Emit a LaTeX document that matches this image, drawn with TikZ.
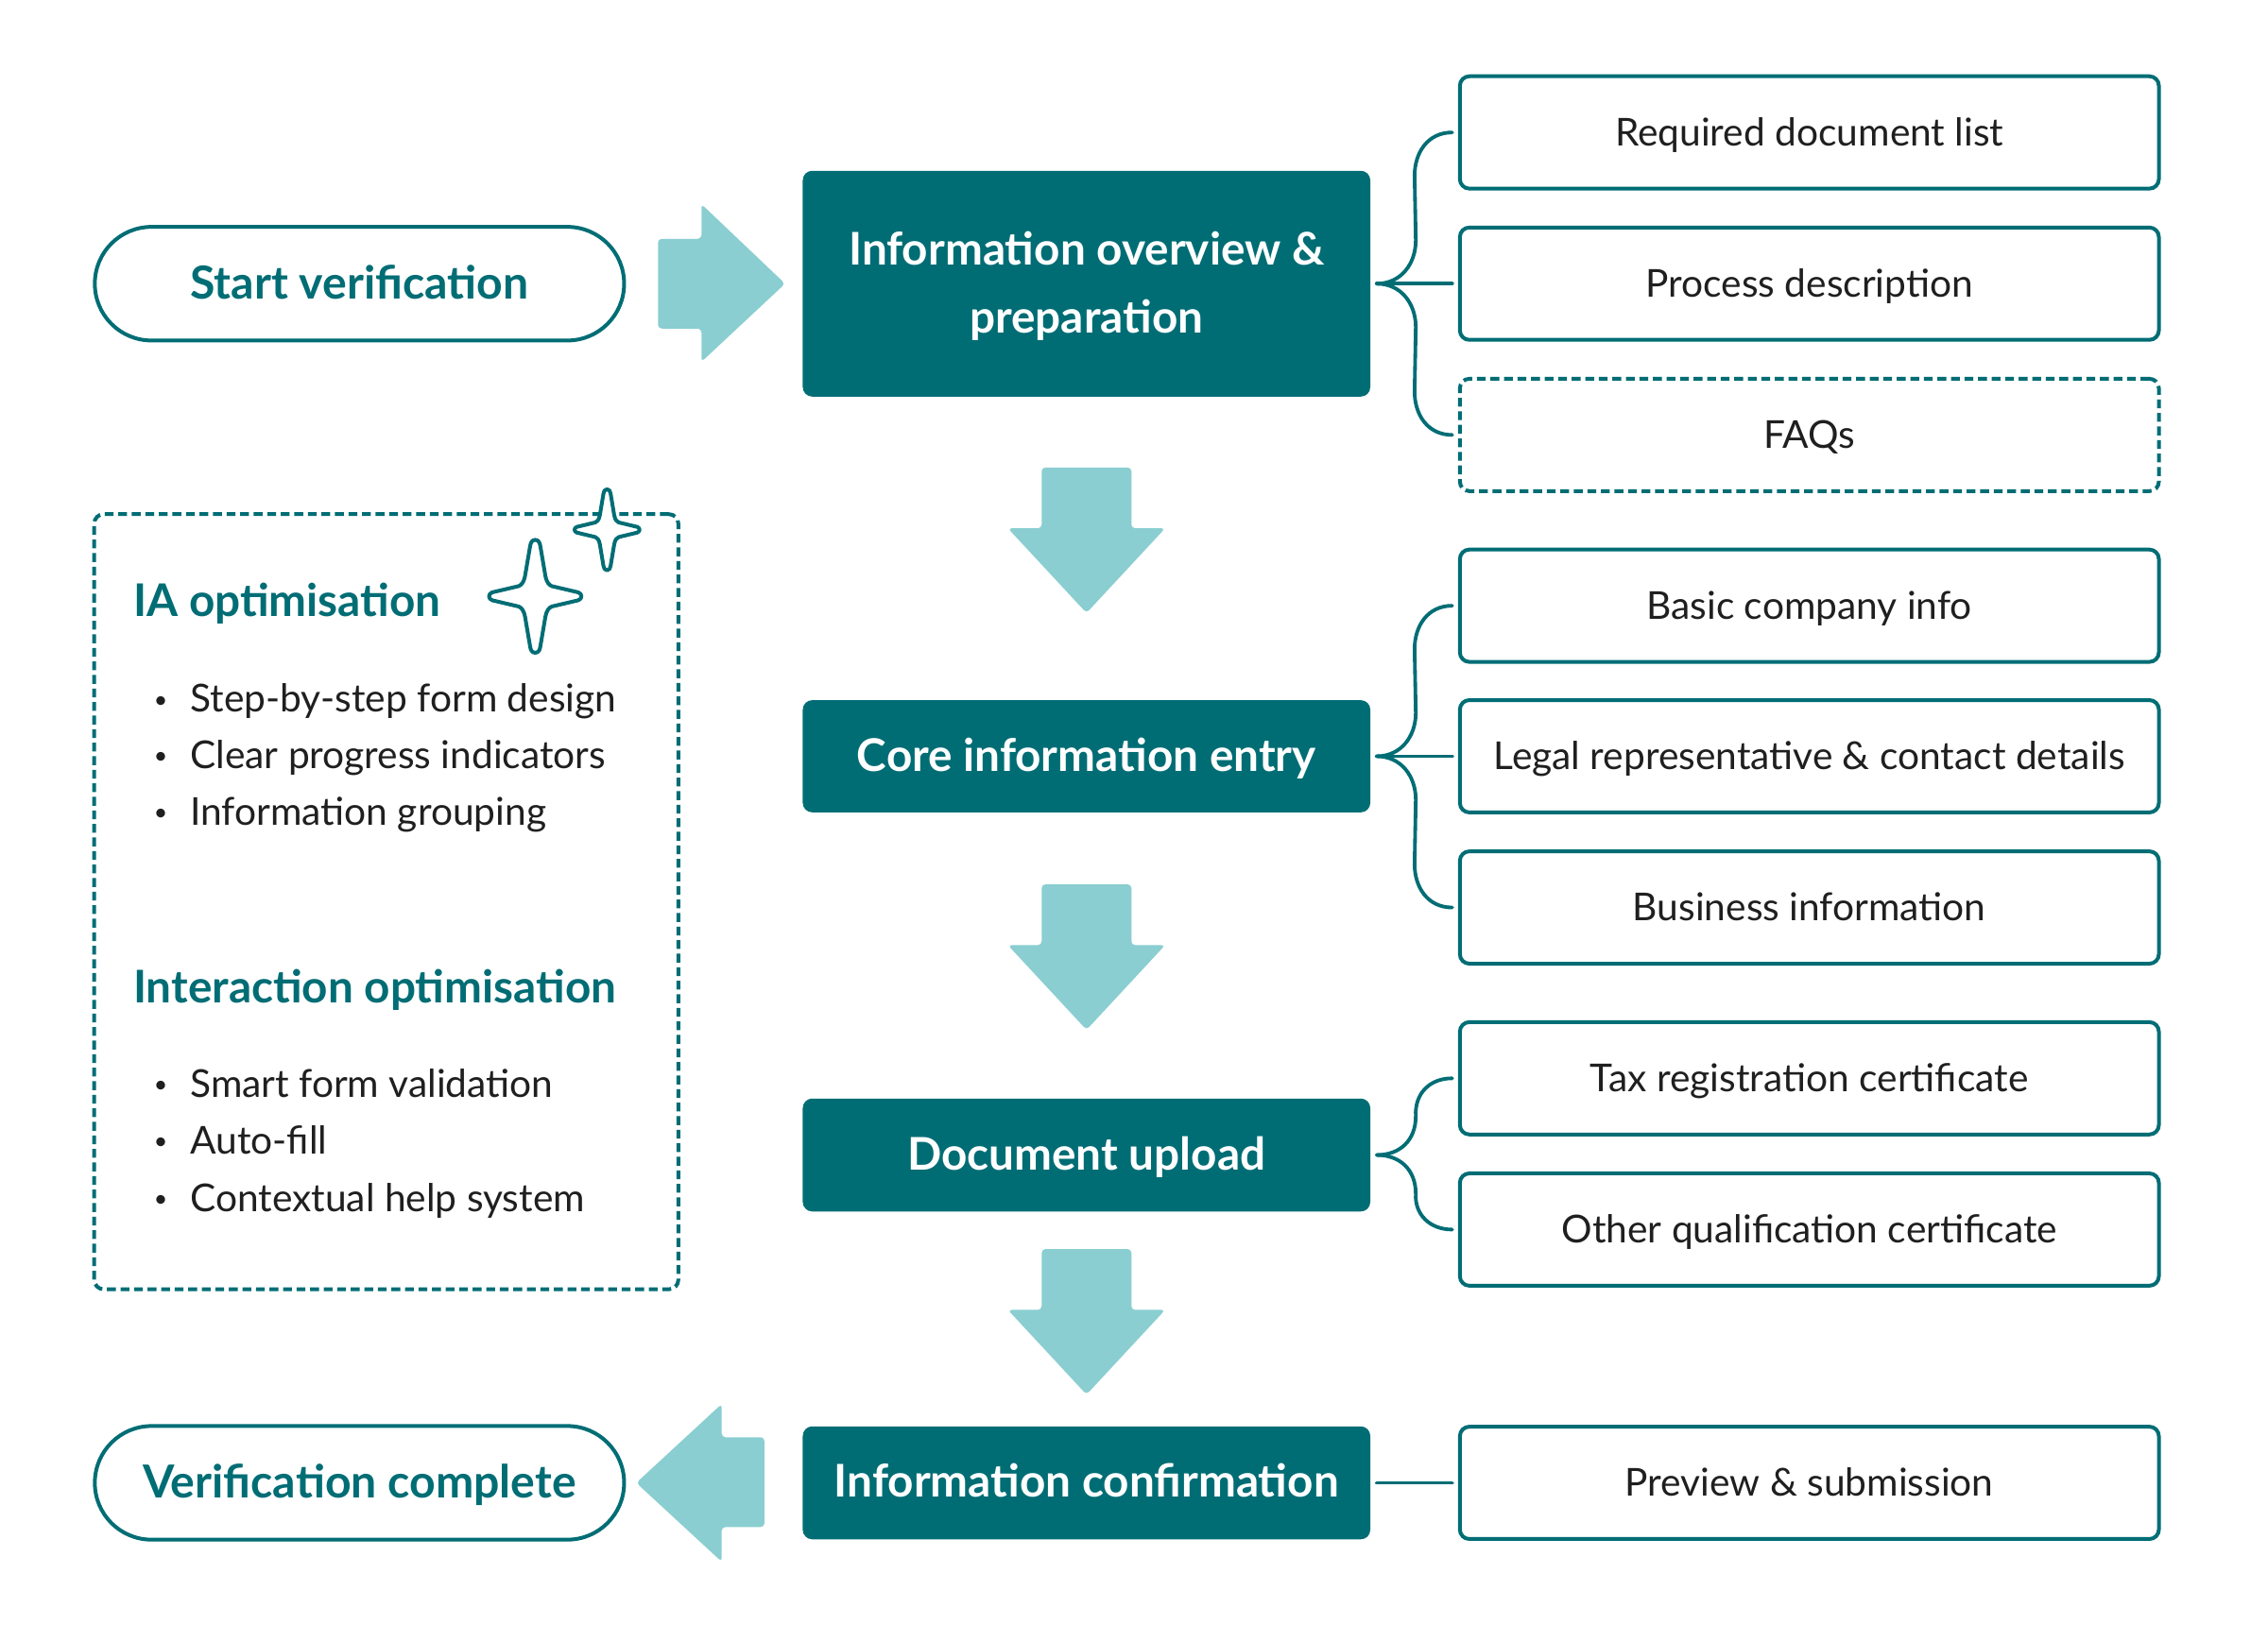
\documentclass[tikz,border=0pt]{standalone}
\usepackage{fontspec}
\usetikzlibrary{calc}
\setmainfont{Lato}
\definecolor{teal}{HTML}{006D75}
\definecolor{lightteal}{HTML}{8ACED1}
\definecolor{ink}{HTML}{1F1F1F}
\def\uu{0.4596pt}
\tikzset{
  x=\uu, y=-\uu,
  stepbox/.style={draw=none, fill=teal, rounded corners=3pt, text=white, align=center, inner sep=0pt,
     minimum width=392*\uu, font=\fontsize{14.3}{21.6}\selectfont\bfseries},
  singleline/.style={text height=11.7pt, text depth=2pt},
  itembox/.style={draw=teal, line width=1.2pt, rounded corners=3pt, text=ink, inner sep=0pt,
     text height=10.6pt, text depth=2.2pt,
     minimum width=482.8*\uu, minimum height=77.6*\uu, font=\fontsize{12.2}{15}\selectfont},
  dashbox/.style={dash pattern=on 2.8pt off 1.5pt},
  pill/.style={draw=teal, line width=1.2pt, rounded corners=18pt, text=teal, inner sep=0pt,
     text height=11.5pt, text depth=2pt,
     minimum width=365.6*\uu, minimum height=78.5*\uu, font=\fontsize{14.45}{18}\selectfont\bfseries},
  bigarrow/.style={fill=lightteal, rounded corners=1.2pt},
  link/.style={draw=teal, line width=1.15pt, line cap=round},
  heading/.style={anchor=base west, inner sep=0pt, text=teal, font=\fontsize{14.3}{18}\selectfont\bfseries},
  listitem/.style={anchor=base west, inner sep=0pt, text=ink, font=\fontsize{12.2}{15}\selectfont},
  bulletdot/.style={anchor=base, inner sep=0pt, text=ink, font=\fontsize{7.5}{9}\selectfont},
  sparkle/.style={draw=teal, fill=white, line width=1.2pt, line join=round},
}
% \branch{from}{to}{sign}: curly connector going up (-1) or down (1)
\newcommand{\branch}[3]{%
  \draw[link] (#1) .. controls ($(#1)+(17,0)$) and ($(#1)+(27,#3*14)$) .. ($(#1)+(27,#3*30)$)
     -- ($(#2)+(-26,-#3*30)$) .. controls ($(#2)+(-26,-#3*14)$) and ($(#2)+(-17,0)$) .. (#2);}
\newcommand{\sparklepath}{%
  (0,-1) .. controls (.07,-1) and (.1,-.95) .. (.11,-.89)
    -- (.22,-.36) .. controls (.25,-.24) and (.3,-.2) .. (.36,-.18)
    -- (.93,-.07) .. controls (1.02,-.04) and (1.02,.04) .. (.93,.07)
    -- (.36,.18) .. controls (.3,.2) and (.25,.24) .. (.22,.36)
    -- (.11,.89) .. controls (.1,.95) and (.07,1) .. (0,1)
    .. controls (-.07,1) and (-.1,.95) .. (-.11,.89)
    -- (-.22,.36) .. controls (-.25,.24) and (-.3,.2) .. (-.36,.18)
    -- (-.93,.07) .. controls (-1.02,.04) and (-1.02,-.04) .. (-.93,-.07)
    -- (-.36,-.18) .. controls (-.3,-.2) and (-.25,-.24) .. (-.22,-.36)
    -- (-.11,-.89) .. controls (-.1,-.95) and (-.07,-1) .. (0,-1) -- cycle}
\newcommand{\downarrowshape}[1]{%
  \fill[bigarrow] (719.5,#1) -- (781.5,#1) -- (781.5,#1+42) -- (804.8,#1+42) -- (750.5,#1+100.5) -- (696.2,#1+42) -- (719.5,#1+42) -- cycle;}
\begin{document}
\begin{tikzpicture}
\useasboundingbox (0,0) rectangle (1566.6,1122.7);
\fill[white] (0,0) rectangle (1566.6,1122.7);

% flow boxes
\node[pill] (start) at (248.3,196) {Start verification};
\node[stepbox, minimum height=156*\uu] (m1) at (750.5,196) {\rule{0pt}{12.4pt}Information overview \&\\preparation};
\node[stepbox, singleline, minimum height=77.5*\uu] (m2) at (750.5,522.5) {Core information entry};
\node[stepbox, singleline, minimum height=78*\uu] (m3) at (750.5,798) {Document upload};
\node[stepbox, minimum height=78*\uu, text height=11.2pt, text depth=2pt] (m4) at (750.5,1024.5) {Information confirmation};
\node[pill] (done) at (248.3,1024.5) {Verification complete};

% item boxes
\node[itembox] (b1) at (1249.8,91.5) {Required document list};
\node[itembox] (b2) at (1249.8,196) {Process description};
\node[itembox, dashbox] (b3) at (1249.8,300.5) {FAQs};
\node[itembox] (b4) at (1249.8,418.5) {Basic company info};
\node[itembox] (b5) at (1249.8,522.5) {Legal representative \& contact details};
\node[itembox] (b6) at (1249.8,627) {Business information};
\node[itembox] (b7) at (1249.8,745) {Tax registration certificate};
\node[itembox] (b8) at (1249.8,849.5) {Other qualification certificate};
\node[itembox] (b9) at (1249.8,1024.5) {Preview \& submission};

% block arrows
\fill[bigarrow] (454.5,165) -- (484.5,165) -- (484.5,141) -- (542.3,196) -- (484.5,250) -- (484.5,227) -- (454.5,227) -- cycle;
\downarrowshape{323}
\downarrowshape{611}
\downarrowshape{863}
\fill[bigarrow] (528,993) -- (498.5,993) -- (498.5,970) -- (439.5,1024.5) -- (498.5,1079) -- (498.5,1055) -- (528,1055) -- cycle;

% connectors
\foreach \m/\b in {m1/b1,m1/b2,m1/b3,m2/b4,m2/b5,m2/b6,m3/b7,m3/b8,m4/b9}{
  \coordinate (from-\b) at ($(\m.east)+(4,0)$);
  \coordinate (to-\b) at ($(\b.west)+(-4,0)$);
}
\branch{from-b1}{to-b1}{-1}
\draw[link] (from-b2) -- (to-b2);
\branch{from-b3}{to-b3}{1}
\branch{from-b4}{to-b4}{-1}
\draw[link] (from-b5) -- (to-b5);
\branch{from-b6}{to-b6}{1}
\draw[link] (from-b7) .. controls ($(from-b7)+(16,0)$) and ($(from-b7)+(27,-10)$) .. ($(from-b7)+(27,-27)$)
   .. controls ($(to-b7)+(-26,11)$) and ($(to-b7)+(-16,0)$) .. (to-b7);
\draw[link] (from-b8) .. controls ($(from-b8)+(16,0)$) and ($(from-b8)+(27,10)$) .. ($(from-b8)+(27,27)$)
   .. controls ($(to-b8)+(-26,-11)$) and ($(to-b8)+(-16,0)$) .. (to-b8);
\draw[link] (from-b9) -- (to-b9);

% optimisation panel
\node[draw=teal, line width=1.2pt, dashbox, rounded corners=3pt, minimum width=403.5*\uu, minimum height=535.5*\uu, inner sep=0pt] (panel) at (266.8,623) {};
\begin{scope}[shift={(369.7,412)}, xscale=32, yscale=39]
  \draw[sparkle] \sparklepath;
\end{scope}
\begin{scope}[shift={(419.3,366)}, xscale=22.5, yscale=28]
  \draw[sparkle] \sparklepath;
\end{scope}

\node[heading] (h1) at (91.7,426) {IA optimisation};
\node[heading] (h2) at (91.7,693) {Interaction optimisation};
\foreach \name/\yy/\txt in {l1/492/Step-by-step form design, l2/531/Clear progress indicators, l3/570/Information grouping,
   l4/758/Smart form validation, l5/797/Auto-fill, l6/837/Contextual help system}{
  \node[listitem] (\name) at (131,\yy) {\txt};
  \node[bulletdot] (\name-dot) at (111,\yy-3) {•};
}
\end{tikzpicture}
\end{document}
